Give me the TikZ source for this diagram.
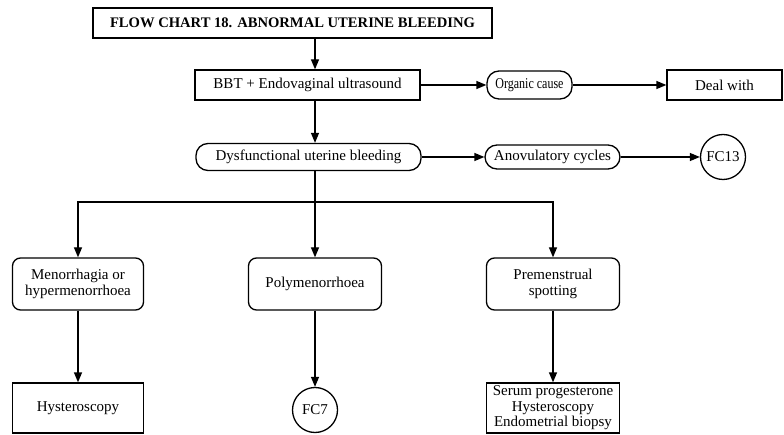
\documentclass[tikz,border=0pt]{standalone}
\usepackage{fontspec}
\setmainfont{Liberation Serif}
\usetikzlibrary{arrows.meta}
\begin{document}
\begin{tikzpicture}[x=1pt,y=-1pt,
  every node/.style={font=\fontsize{15}{15.5}\selectfont, align=center, inner sep=0pt, line width=1.3pt},
  sq/.style={draw, rectangle},
  rnd/.style={draw, rectangle, rounded corners=8pt},
  pill/.style={draw, rectangle, rounded corners=12pt},
  ref/.style={draw, circle, minimum size=45pt},
  arr/.style={line width=1.3pt, -{Triangle[length=10pt,width=8pt]}}]
\useasboundingbox (0,0) rectangle (784,435);
\coordinate (sp) at (315,0);
% header and first level
\node[sq, minimum width=399pt, minimum height=30pt, font=\fontsize{14.6}{16}\selectfont\bfseries] (title) at (292.5,23) {FLOW CHART 18. ABNORMAL UTERINE BLEEDING};
\node[sq, minimum width=225pt, minimum height=30pt] (bbt) at (307.5,85) {BBT + Endovaginal ultrasound};
\node[pill, minimum width=85pt, minimum height=28pt] (org) at (529.5,85) {\scalebox{0.8}[1]{Organic cause}};
\node[sq, minimum width=115pt, minimum height=30pt] (deal) at (724.5,85) {Deal with};
% second level
\node[pill, minimum width=225pt, minimum height=27pt] (dub) at (308.5,157) {Dysfunctional uterine bleeding};
\node[pill, minimum width=135pt, minimum height=24pt] (anov) at (552.5,157) {Anovulatory cycles};
\node[ref] (fc13) at (723,157) {FC13};
% types of bleeding
\node[rnd, minimum width=131pt, minimum height=52pt] (men) at (78,284) {Menorrhagia or\\hypermenorrhoea};
\node[rnd, minimum width=133pt, minimum height=52pt] (poly) at (315,284) {Polymenorrhoea};
\node[rnd, minimum width=133pt, minimum height=52pt] (pre) at (553,284) {Premenstrual\\spotting};
% investigations
\node[sq, minimum width=131pt, minimum height=50pt] (hyst) at (78,408) {Hysteroscopy};
\node[ref] (fc7) at (315,410) {FC7};
\node[sq, minimum width=133pt, minimum height=50pt] (serum) at (553,408) {Serum progesterone\\Hysteroscopy\\Endometrial biopsy};
% connectors
\draw[arr] (title.south -| sp) -- (bbt.north -| sp);
\draw[arr] (bbt.east) -- (org.west);
\draw[arr] (org.east) -- (deal.west);
\draw[arr] (bbt.south -| sp) -- (dub.north -| sp);
\draw[arr] (dub.east) -- (anov.west);
\draw[arr] (anov.east) -- (fc13.west);
\draw[arr] (dub.south -| sp) -- (poly.north);
\coordinate (br) at (315,202);
\draw[arr] (br) -| (men.north);
\draw[arr] (br) -| (pre.north);
\draw[arr] (men.south) -- (hyst.north);
\draw[arr] (poly.south) -- (fc7.north);
\draw[arr] (pre.south) -- (serum.north);
\end{tikzpicture}
\end{document}
